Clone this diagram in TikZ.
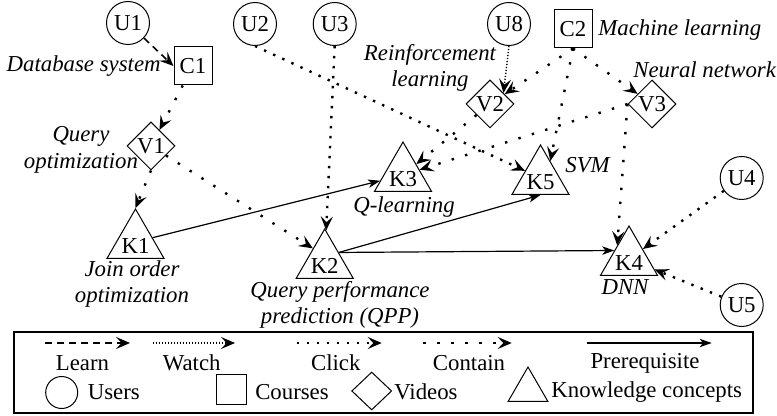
\documentclass[tikz,border=0pt]{standalone}
\usepackage{fontspec}
\setmainfont{Liberation Serif}
\usetikzlibrary{shapes.geometric,arrows.meta,calc}
\newcommand\diagfont{\fontsize{11.4}{13.3}\selectfont}

\begin{document}
\begin{tikzpicture}[x=0.5pt,y=-0.5pt,
  font=\diagfont,
  every node/.style={inner sep=0pt},
  user/.style={circle,draw,line width=0.5pt,minimum size=21.5pt},
  course/.style={rectangle,draw,line width=0.5pt,minimum size=19pt},
  video/.style={diamond,draw,line width=0.5pt,minimum size=24pt},
  concept/.style={regular polygon,regular polygon sides=3,draw,line width=0.5pt,minimum size=33pt},
  klab/.style={yshift=-2pt},
  desc/.style={font=\diagfont\itshape,align=center},
  headA/.tip={Stealth[length=7pt,width=6pt,inset=2.8pt]},
  headB/.tip={Stealth[length=6pt,width=4.2pt,inset=1.6pt]},
  learn/.style={-headA,line width=0.8pt,dash pattern=on 3.5pt off 2.5pt},
  watch/.style={-headA,line width=0.7pt,dash pattern=on 0.6pt off 0.9pt},
  click/.style={-headA,line width=1.2pt,dash pattern=on 1.2pt off 3.8pt},
  contain/.style={-headA,line width=1.2pt,dash pattern=on 1.2pt off 5.8pt},
  prereq/.style={-headB,line width=0.6pt}]

\useasboundingbox (0,0) rectangle (777,416);

% users
\node[user] (U1) at (128,23) {U1};
\node[user] (U2) at (255,24) {U2};
\node[user] (U3) at (334.7,24) {U3};
\node[user] (U8) at (509,24) {U8};
\node[user] (U4) at (741.7,178) {U4};
\node[user] (U5) at (741.7,305) {U5};

% courses
\node[course] (C1) at (193,66) {C1};
\node[course] (C2) at (573,29) {C2};

% videos
\node[video] (V1) at (151,146) {V1};
\node[video] (V2) at (490,104) {V2};
\node[video] (V3) at (652,104) {V3};

% knowledge concepts
\node[concept,label={[klab]center:K1}] (K1) at (135.5,242) {};
\node[concept,label={[klab]center:K2}] (K2) at (324.7,262) {};
\node[concept,label={[klab]center:K3}] (K3) at (403,175) {};
\node[concept,label={[klab]center:K4}] (K4) at (629,259) {};
\node[concept,label={[klab]center:K5}] (K5) at (540.5,178) {};

% names of the items
\node[desc,anchor=east] (dC1) at (161,66) {Database system};
\node[desc,anchor=west] (dC2) at (598,30) {Machine learning};
\node[desc] (dV1) at (81,150) {Query\\optimization};
\node[desc] (dV2) at (430,68) {Reinforcement\\learning};
\node[desc,anchor=west] (dV3) at (633,70) {Neural network};
\node[desc] (dK1) at (132,284) {Join order\\optimization};
\node[desc] (dK2) at (340,305) {Query performance\\prediction (QPP)};
\node[desc] (dK3) at (404,207) {Q-learning};
\node[desc] (dK4) at (625,287) {DNN};
\node[desc,anchor=west] (dK5) at (565,165) {SVM};

% relations
\draw[learn] (U1) -- (C1.west);
\draw[contain] (C1) -- (V1);
\draw[contain] (V1.south) -- (K1.corner 1);
\draw[contain] (V1) -- ($(K2.corner 1)!0.4!(K2.corner 2)$);
\draw[click] (U2.south) -- (K5);
\draw[click] (U3.south) -- (K2);
\draw[watch] (U8.south) -- ($(V2.north)!0.55!(V2.east)$);
\draw[contain] (C2.south) -- (V2);
\draw[contain] (C2.south) -- (V3);
\draw[contain] (C2.south) -- (K5.60);
\draw[contain] (V2) -- (K3);
\draw[contain] (V3.west) -- (K3);
\draw[contain] (V3.west) -- ($(K4.corner 1)!0.4!(K4.corner 2)$);
\draw[click] (U4) -- (K4);
\draw[click] (U5) -- (K4);
\draw[prereq] (K1) -- (K3);
\coordinate (K2out) at ($(K2.corner 1)!0.48!(K2.corner 3)$);
\draw[prereq] (K2out) -- (K5.side 2);
\draw[prereq] (K2out) -- ($(K4.corner 1)!0.5!(K4.corner 2)$);

% legend
\draw[line width=0.6pt] (14,332) rectangle (753,413);
\coordinate (la1) at (45,343);    \coordinate (lb1) at (130,343);
\coordinate (la2) at (152.7,343); \coordinate (lb2) at (235,343);
\coordinate (la3) at (296.7,343); \coordinate (lb3) at (381.7,343);
\coordinate (la4) at (423.3,343); \coordinate (lb4) at (511.7,343);
\coordinate (la5) at (587.3,343); \coordinate (lb5) at (711.7,343);
\draw[learn] (la1) -- (lb1);
\draw[watch] (la2) -- (lb2);
\draw[click] (la3) -- (lb3);
\draw[contain] (la4) -- (lb4);
\draw[prereq] (la5) -- (lb5);
\node (tLearn) at (82.5,363) {Learn};
\node (tWatch) at (191.7,363) {Watch};
\node (tClick) at (335.8,363) {Click};
\node (tContain) at (469,363) {Contain};
\node (tPrereq) at (645,363) {Prerequisite};

\node[user,minimum size=16pt] (lgU) at (61.7,392.5) {};
\node[course,minimum size=15pt] (lgC) at (231,390) {};
\node[video,minimum width=20pt,minimum height=19pt] (lgV) at (371.7,391) {};
\node[concept,minimum size=23pt] (lgK) at (528,390) {};
\node (tUsers) at (113.8,392) {Users};
\node (tCourses) at (292,392) {Courses};
\node (tVideos) at (426,392) {Videos};
\node (tKC) at (646.7,392) {Knowledge concepts};
\end{tikzpicture}
\end{document}
